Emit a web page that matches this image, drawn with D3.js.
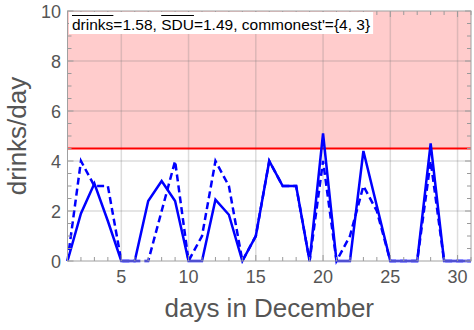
<!DOCTYPE html>
<html><head><meta charset="utf-8">
<script src="https://cdn.jsdelivr.net/npm/d3@7"></script>
<style>body{margin:0;background:#fff}svg{display:block}text{font-family:"Liberation Sans",Arial,sans-serif}</style>
</head><body><svg id="c" width="474" height="330"></svg>
<script>
const days = d3.range(1, 32);
const drinks = [0,4,3,3,0,0,0,2,4,0,1,4,3,0,1,4,3,3,0,4,0,1,3,2,0,0,0,4,0,0,0];
const sdu = [0,1.9,3.1,1.6,0,0,2.4,3.2,2.4,0,0,2.45,1.85,0,1,4,3,3,0,5.1,0,0,4.4,2.2,0,0,0,4.7,0,0,0];
const limit = 4.5;
const xTicks = [5,10,15,20,25,30];
const yTicks = [0,2,4,6,8,10];
const labelParts = ["drinks", "=1.58, ", "SDU", "=1.49, commonest'={4, 3}"];

const svg = d3.select("#c");
const L = 67.5, R = 471, T = 11, B = 261;
const x = d3.scaleLinear().domain([1, 31]).range([L, R]);
const y = d3.scaleLinear().domain([0, 10]).range([B, T]);
const gray = "#555";

// pink region above limit
svg.append("rect").attr("x", L).attr("y", y(10)).attr("width", R - L).attr("height", y(limit) - y(10)).attr("fill", "#ffcccc");

// grid
const grid = svg.append("g").attr("stroke", "rgba(120,120,120,0.25)").attr("stroke-width", 1.5);
grid.selectAll(".gx").data(xTicks).join("line").attr("x1", d => x(d)).attr("x2", d => x(d)).attr("y1", T).attr("y2", B);
grid.selectAll(".gy").data(yTicks.filter(d => d > 0 && d < 10)).join("line").attr("y1", d => y(d)).attr("y2", d => y(d)).attr("x1", L).attr("x2", R);

// limit line
svg.append("line").attr("x1", L).attr("x2", R).attr("y1", y(limit)).attr("y2", y(limit)).attr("stroke", "#ff0000").attr("stroke-width", 2);

// data lines
const line = d3.line().x((d, i) => x(days[i])).y(d => y(d));
svg.append("path").attr("d", line(drinks)).attr("fill", "none").attr("stroke", "#0000ff").attr("stroke-width", 2.5).attr("stroke-dasharray", "7,4").attr("stroke-linejoin", "miter");
svg.append("path").attr("d", line(sdu)).attr("fill", "none").attr("stroke", "#0000ff").attr("stroke-width", 2.5).attr("stroke-linejoin", "miter");

// axes (inward ticks, Mathematica style)
const tickCol = "#9a9a9a";
const xMinor = d3.range(1, 32);
const yMinor = d3.range(0, 10.01, 0.5);
const ax = svg.append("g").attr("stroke", tickCol).attr("stroke-width", 1);
ax.selectAll(".xb").data(xMinor).join("line")
  .attr("x1", d => x(d)).attr("x2", d => x(d)).attr("y1", B).attr("y2", d => B - (d % 5 === 0 ? 6 : 4));
ax.selectAll(".xt").data(xMinor).join("line")
  .attr("x1", d => x(d)).attr("x2", d => x(d)).attr("y1", T).attr("y2", d => T + (d % 5 === 0 ? 6 : 4));
ax.selectAll(".yl").data(yMinor).join("line")
  .attr("y1", d => y(d)).attr("y2", d => y(d)).attr("x1", L).attr("x2", d => L + (d % 2 === 0 ? 6 : 4));
ax.selectAll(".yr").data(yMinor).join("line")
  .attr("y1", d => y(d)).attr("y2", d => y(d)).attr("x1", R).attr("x2", d => R - (d % 2 === 0 ? 6 : 4));

// annotation box
const bx = svg.append("g");
const boxRect = bx.append("rect").attr("fill", "#fff");
const txt = bx.append("text").attr("x", 72).attr("y", 29.5).attr("font-size", 15.5).attr("fill", "#000");
txt.selectAll("tspan").data(labelParts).join("tspan").text(d => d);
const full = txt.node();
const wAll = full.getComputedTextLength();
boxRect.attr("x", 69).attr("y", 12).attr("width", wAll + 6).attr("height", 22);
let idx = 0;
labelParts.forEach((p, i) => {
  if (i === 0 || i === 2) {
    const x0 = 72 + (idx > 0 ? full.getSubStringLength(0, idx) : 0);
    const w = full.getSubStringLength(idx, p.length);
    bx.append("line").attr("x1", x0).attr("x2", x0 + w).attr("y1", 15.5).attr("y2", 15.5).attr("stroke", "#000").attr("stroke-width", 1);
  }
  idx += p.length;
});

// frame
svg.append("rect").attr("x", L).attr("y", T).attr("width", R - L).attr("height", B - T).attr("fill", "none").attr("stroke", "#a0a0a0").attr("stroke-width", 1);

// tick labels
svg.selectAll(".xl").data(xTicks).join("text").attr("x", d => x(d)).attr("y", 283).attr("text-anchor", "middle")
  .attr("font-size", 18).attr("fill", gray).text(d => d);
svg.selectAll(".ylab").data(yTicks).join("text").attr("x", 61).attr("y", d => y(d) + 6.5).attr("text-anchor", "end")
  .attr("font-size", 18).attr("fill", gray).text(d => d);

// axis titles
svg.append("text").attr("x", (L + R) / 2).attr("y", 317).attr("text-anchor", "middle").attr("font-size", 26).attr("fill", gray).text("days in December");
svg.append("text").attr("transform", `translate(26,${(T + B) / 2}) rotate(-90)`).attr("text-anchor", "middle").attr("font-size", 26).attr("fill", gray).text("drinks/day");
</script></body></html>
